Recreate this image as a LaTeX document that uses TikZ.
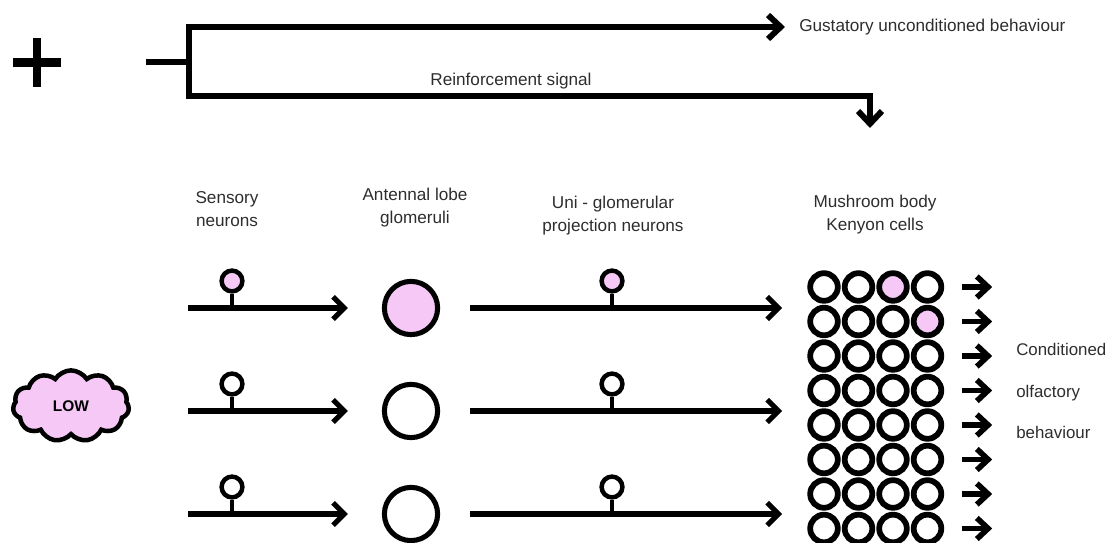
\documentclass[tikz,border=0pt]{standalone}
\usepackage{fontspec}
\setmainfont{Liberation Sans}
\usetikzlibrary{arrows.meta,shapes.symbols}
\definecolor{cellpink}{RGB}{246,200,246}
\definecolor{inkgrey}{RGB}{45,45,45}
\tikzset{
  label/.style={text=inkgrey, font=\fontsize{12.2}{16.4}\selectfont, align=center, inner sep=0pt},
  axon/.style={line width=3.6pt, -{Straight Barb[length=8pt,width=16pt]}},
  soma/.style={circle, draw, line width=3.2pt, minimum size=0.52cm, inner sep=0pt},
  glom/.style={circle, draw, line width=3.6pt, minimum size=1.33cm, inner sep=0pt},
  kc/.style={circle, draw, line width=4.1pt, minimum size=0.69cm, inner sep=0pt},
  bracket/.style={line width=4.2pt, line join=miter}
}
\begin{document}
\begin{tikzpicture}[x=0.025cm, y=-0.025cm]
  \useasboundingbox (0,0) rectangle (1114,543);
  % Reinforcement (sugar)
  \draw[line width=5.7pt] (13,62.5) -- (61,62.5) (37,38) -- (37,87);
  \coordinate (minus) at (146,62);
  \coordinate (fork) at (189,62);
  \node[label, anchor=west] (gust) at (799,27) {Gustatory unconditioned behaviour};
  \node[label] (rs) at (511,81) {Reinforcement signal};
  \coordinate (gtip) at (785,27);
  \coordinate (mbin) at (870,128);
  \draw[bracket] (minus) -- (fork);
  \draw[bracket, -{Straight Barb[length=9pt,width=17pt]}] (189,96) |- (gtip);
  \draw[bracket, -{Straight Barb[length=9pt,width=17pt]}] (fork) |- (870,96) -- (mbin);
  % Column headings
  \node[label] (hsn) at (227,209.5) {Sensory\\neurons};
  \node[label] (hal) at (415,208) {Antennal lobe\\glomeruli};
  \node[label] (hpn) at (613,216) {Uni - glomerular\\projection neurons};
  \node[label] (hmb) at (875,214.5) {Mushroom body\\Kenyon cells};
  % Odour
  \node[cloud, cloud puffs=11, cloud puff arc=115, aspect=1.7, draw, fill=cellpink,
        line width=3.2pt, minimum width=2.9cm, minimum height=1.78cm, inner sep=0pt,
        font=\fontsize{11}{13}\selectfont\bfseries] (odour) at (71,406) {LOW};
  % Three channels: sensory neuron -> glomerulus -> projection neuron
  \foreach \k/\y/\col in {1/308/cellpink, 2/411/white, 3/514/white}{
    \coordinate (sa\k) at (188,\y);
    \node[glom, fill=\col] (gl\k) at (411,\y) {};
    \node[soma, fill=\col] (sn\k) at (232,\y-27) {};
    \node[soma, fill=\col] (pn\k) at (612,\y-27) {};
    \coordinate (pt\k) at (782,\y);
    \draw[axon, shorten >=0.85cm] (sa\k) -- (gl\k.west);
    \draw[axon, shorten <=0.75cm] (gl\k.east) -- (pt\k);
    \draw[line width=3.2pt] (sn\k.south) -- (sn\k.south |- sa\k);
    \draw[line width=3.2pt] (pn\k.south) -- (pn\k.south |- pt\k);
  }
  % Kenyon cells
  \foreach \r in {1,...,8}{
    \foreach \c in {1,...,4}{
      \def\kcfill{white}
      \ifnum\r\c=13 \def\kcfill{cellpink}\fi
      \ifnum\r\c=24 \def\kcfill{cellpink}\fi
      \node[kc, fill=\kcfill] (kc-\r-\c) at ({789.5+34.5*\c},{252.5+34.5*\r}) {};
    }
    \draw[line width=4pt, -{Straight Barb[length=8pt,width=15pt]}, shorten <=0.45cm]
      (kc-\r-4.east) -- ++(48,0);
  }
  \node[label, anchor=west, align=left, font=\fontsize{12}{29.2}\selectfont] (cob) at (1016,391)
    {Conditioned\\olfactory\\behaviour};
\end{tikzpicture}
\end{document}
